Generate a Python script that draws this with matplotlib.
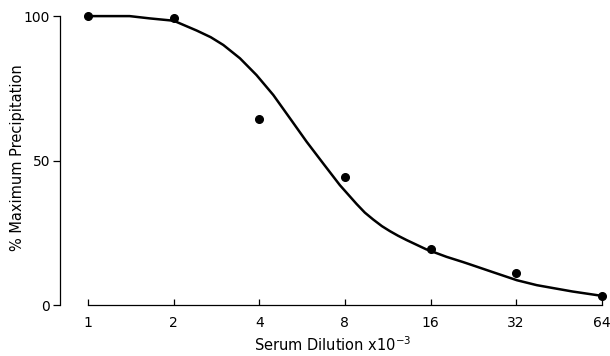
import matplotlib
matplotlib.use('Agg')
from matplotlib import pyplot as plt

# measured points
dilution = [1, 2, 4, 8, 16, 32, 64]
precip = [100, 99.5, 64.5, 44.4, 19.4, 11.2, 3.1]

# fitted curve
curve_x = [1, 1.40, 1.65, 2, 2.41, 2.7, 2.99, 3.42, 3.91, 4.48, 5.13, 5.87, 6.71,
           7.68, 8.79, 9.4, 10.06, 10.8, 11.51, 12.3, 13.18, 15.45, 18.21, 20.8,
           22.0, 26.5, 32.2, 37.8, 43.1, 50.5, 64]
curve_y = [100, 100, 99.2, 98.4, 95, 92.7, 90, 85.4, 79.6, 72.7, 64.6, 56.5, 49.0,
           41.5, 35.0, 32.0, 29.6, 27.3, 25.6, 24.0, 22.5, 19.3, 16.7, 14.9,
           14.1, 11.4, 8.6, 6.9, 5.9, 4.7, 3.2]

ticks_x = [1, 2, 4, 8, 16, 32, 64]
ticks_y = [0, 50, 100]

plt.rcParams['font.family'] = ['DejaVu Sans']
fig = plt.figure(figsize=(6.1, 3.56), dpi=100)
ax = fig.add_axes([0.0984, 0.143, 0.895, 0.828])

ax.plot(curve_x, curve_y, color='black', linewidth=1.8, solid_capstyle='round',
        solid_joinstyle='round')
ax.plot(dilution, precip, 'o', color='black', markersize=5.5, linestyle='none')

ax.set_xscale('log', base=2)
ax.set_xlim(0.797, 66.2)
ax.set_ylim(0, 102)
ax.set_xticks(ticks_x)
ax.set_xticklabels([str(t) for t in ticks_x])
ax.minorticks_off()
ax.set_yticks(ticks_y)

ax.spines['top'].set_visible(False)
ax.spines['right'].set_visible(False)
ax.spines['bottom'].set_bounds(1, 64)
ax.spines['left'].set_bounds(0, 100)
ax.spines['bottom'].set_linewidth(0.9)
ax.spines['left'].set_linewidth(0.9)

ax.tick_params(axis='x', direction='in', length=4, width=0.9, labelsize=10, pad=8)
ax.tick_params(axis='y', direction='out', length=5, width=0.9, labelsize=10, pad=2)

ax.set_xlabel('Serum Dilution x10$^{-3}$', fontsize=10.5, labelpad=4)
ax.set_ylabel('% Maximum Precipitation', fontsize=10.5)
ax.yaxis.set_label_coords(-0.064, 0.5)

fig.savefig('out.png', dpi=100)
